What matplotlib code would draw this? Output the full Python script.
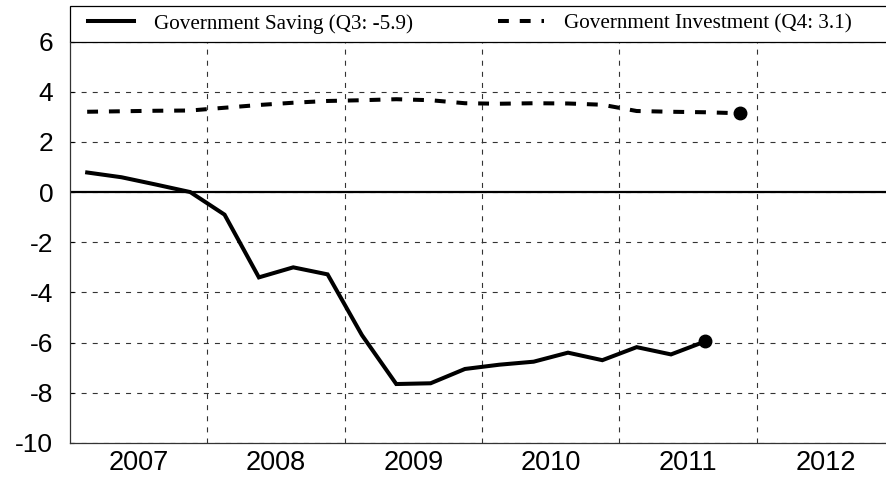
import numpy as np
import matplotlib
matplotlib.use("Agg")
import matplotlib.pyplot as plt
from matplotlib.patches import Rectangle

# quarterly data, 2007Q1 onwards
quarters = ["2007Q1", "2007Q2", "2007Q3", "2007Q4",
            "2008Q1", "2008Q2", "2008Q3", "2008Q4",
            "2009Q1", "2009Q2", "2009Q3", "2009Q4",
            "2010Q1", "2010Q2", "2010Q3", "2010Q4",
            "2011Q1", "2011Q2", "2011Q3", "2011Q4"]
saving = [0.78, 0.59, 0.30, 0.0,
          -0.9, -3.4, -3.0, -3.28,
          -5.7, -7.65, -7.62, -7.05,
          -6.88, -6.76, -6.40, -6.70,
          -6.18, -6.47, -5.95]
investment = [3.20, 3.22, 3.24, 3.25,
              3.36, 3.47, 3.56, 3.63,
              3.66, 3.70, 3.66, 3.54,
              3.52, 3.54, 3.53, 3.48,
              3.23, 3.20, 3.18, 3.14]
label_saving = "Government Saving (Q3: -5.9)"
label_invest = "Government Investment (Q4: 3.1)"
years = [2007, 2008, 2009, 2010, 2011, 2012]
yticks = [-10, -8, -6, -4, -2, 0, 2, 4, 6]

# mid-quarter positions in fractional years
def qpos(q):
    return int(q[:4]) + (int(q[-1]) - 0.5) / 4

x_all = np.array([qpos(q) for q in quarters])
x_sav = x_all[:len(saving)]
x_inv = x_all[:len(investment)]

plt.rcParams["font.family"] = ["Liberation Sans", "DejaVu Sans"]

fig = plt.figure(figsize=(8.86, 4.80), dpi=100)
ax = fig.add_axes([70/886, 1 - 443/480, 816/886, 401.5/480])

ax.set_xlim(2007, 2012.94)
ax.set_ylim(-10, 6)

# grid
for yv in yticks:
    ax.axhline(yv, color="#333333", lw=0.8, ls=(0, (4.5, 5.5)), zorder=1)
for yr in years[1:]:
    ax.axvline(yr, color="#333333", lw=0.8, ls=(0, (4.5, 5.5)), zorder=1)
ax.axhline(0, color="black", lw=1.6, zorder=2)

ln1, = ax.plot(x_sav, saving, color="black", lw=2.9, solid_joinstyle="miter",
               zorder=3, label=label_saving)
ax.plot(x_sav[-1], saving[-1], "o", color="black", ms=9, zorder=4)
ln2, = ax.plot(x_inv, investment, color="black", lw=2.9,
               ls=(0, (2.7, 2.7)), zorder=3, label=label_invest)
ax.plot(x_inv[-1], investment[-1], "o", color="black", ms=9, zorder=4)

ax.set_yticks(yticks)
ax.set_yticklabels([str(v) for v in yticks], fontsize=19)
ax.set_xticks([y + 0.5 for y in years])
ax.set_xticklabels([str(y) for y in years], fontsize=19.5)
ax.tick_params(axis="x", length=0, pad=5)
ax.tick_params(axis="y", direction="in", length=3, width=0.8, pad=12)

for s in ["top", "right"]:
    ax.spines[s].set_visible(False)
for s in ["left", "bottom"]:
    ax.spines[s].set_color("#333333")
    ax.spines[s].set_linewidth(0.9)

# legend strip above the axes
h = 35.5 / 401.5
ax.add_patch(Rectangle((0, 1), 1.02, h, transform=ax.transAxes, fill=False,
                       edgecolor="black", lw=0.9, clip_on=False))
ax.legend(handles=[ln1, ln2], loc="center left", bbox_to_anchor=(7/816, 1 + h/2),
          ncol=2, frameon=False, borderpad=0, handlelength=2.2,
          handletextpad=0.95, columnspacing=4.0,
          prop={"family": "Liberation Serif", "size": 15.2})

fig.savefig("out.png", dpi=100)
